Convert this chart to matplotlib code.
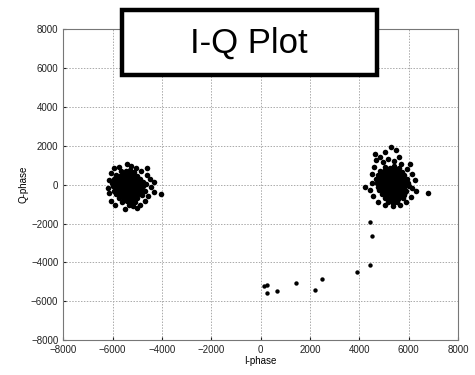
import numpy as np
import matplotlib
matplotlib.use("Agg")
import matplotlib.pyplot as plt
from matplotlib.patches import Rectangle

plt.rcParams['font.family'] = ['Liberation Sans', 'DejaVu Sans']

# symbol cluster around (-5350, 0)
left_cluster = [
    (-5640, 720), (-5470, 690), (-5310, 760), (-5130, 650),
    (-5860, 520), (-5710, 470), (-5530, 540), (-5350, 480), (-5170, 530), (-4990, 450),
    (-5940, 290), (-5770, 330), (-5610, 260), (-5420, 320), (-5250, 270), (-5070, 340), (-4890, 280),
    (-6010, 110), (-5830, 70), (-5650, 130), (-5470, 90), (-5290, 60), (-5110, 120), (-4930, 80), (-4770, 140),
    (-5990, -90), (-5810, -130), (-5630, -70), (-5450, -110), (-5270, -150), (-5090, -80), (-4910, -120), (-4750, -60),
    (-5930, -310), (-5750, -270), (-5570, -330), (-5390, -290), (-5210, -260), (-5030, -320), (-4850, -280),
    (-5870, -490), (-5690, -530), (-5510, -470), (-5330, -510), (-5150, -540), (-4970, -480), (-4810, -520),
    (-5730, -710), (-5550, -680), (-5370, -740), (-5190, -700), (-5010, -660),
    (-5610, -900), (-5430, -860), (-5250, -920), (-5070, -880),
    (-5560, 620), (-5400, 600), (-5220, 640), (-5780, 400), (-5600, 410), (-5440, 380), (-5260, 420), (-5090, 400),
    (-5880, 200), (-5700, 190), (-5520, 210), (-5350, 180), (-5180, 220), (-5000, 200),
    (-5900, -10), (-5720, 10), (-5540, -20), (-5360, 0), (-5180, 20), (-5000, -30), (-4840, 10),
    (-5860, -200), (-5680, -190), (-5500, -220), (-5320, -200), (-5140, -210), (-4960, -190),
    (-5800, -400), (-5620, -410), (-5440, -390), (-5260, -420), (-5080, -400), (-4900, -380),
    (-5640, -600), (-5460, -620), (-5280, -590), (-5100, -610),
    (-5520, -790), (-5340, -810), (-5160, -780),
    (-5720, 920), (-5420, 1080), (-5250, 950), (-5050, 880), (-4850, 720), (-4620, 520),
    (-4500, 300), (-4650, 60), (-4450, -120), (-4040, -500), (-4300, -380), (-4550, -600),
    (-4700, -850), (-4900, -1050), (-5150, -1120), (-5500, -1250), (-5900, -1050), (-6080, -820),
    (-6150, -450), (-6200, -150), (-6150, 250), (-6050, 620), (-5950, 850), (-4620, 880),
    (-4300, 120), (-4700, -300), (-5000, -1200), (-5350, -1050),
]

# symbol cluster around (5350, 50)
right_cluster = [
    (5050, 920), (5230, 870), (5410, 940), (5600, 880),
    (4850, 720), (5020, 680), (5200, 740), (5380, 690), (5560, 710), (5730, 660),
    (4760, 510), (4930, 470), (5110, 530), (5290, 490), (5470, 540), (5650, 480), (5820, 520),
    (4700, 290), (4880, 330), (5060, 270), (5240, 310), (5420, 280), (5600, 330), (5780, 290), (5950, 310),
    (4720, 80), (4900, 120), (5080, 60), (5260, 110), (5440, 90), (5620, 130), (5800, 70), (5980, 100),
    (4750, -120), (4930, -80), (5110, -130), (5290, -90), (5470, -110), (5650, -70), (5830, -120), (6000, -90),
    (4820, -290), (5000, -330), (5180, -280), (5360, -310), (5540, -270), (5720, -320), (5900, -300),
    (4910, -500), (5090, -530), (5270, -480), (5450, -520), (5630, -490), (5810, -510),
    (5040, -700), (5220, -720), (5400, -680), (5580, -730), (5760, -690),
    (5180, -880), (5360, -920), (5540, -870),
    (5140, 800), (5320, 810), (5500, 790), (4940, 600), (5120, 610), (5300, 590), (5480, 620), (5660, 600),
    (4820, 400), (5000, 390), (5180, 410), (5360, 400), (5540, 420), (5720, 390),
    (4800, 200), (4980, 190), (5160, 210), (5340, 200), (5520, 180), (5700, 210), (5880, 200),
    (4830, 0), (5010, -10), (5190, 20), (5370, 0), (5550, -20), (5730, 10), (5910, 0),
    (4900, -200), (5080, -190), (5260, -210), (5440, -200), (5620, -220), (5800, -190),
    (4960, -410), (5140, -400), (5320, -420), (5500, -390), (5680, -410), (5860, -400),
    (5130, -610), (5310, -600), (5490, -620), (5670, -590),
    (5280, -790), (5460, -810),
    (4700, 1250), (4850, 1450), (5050, 1700), (5300, 1950), (5500, 1800), (5150, 1300),
    (4950, 1150), (5400, 1200), (5700, 1050), (5950, 800), (6150, 550), (6250, 250),
    (6150, -150), (6300, -350), (6100, -650), (5900, -900), (5650, -1050), (5350, -1100),
    (5050, -1050), (4750, -900), (4550, -600), (4450, -250), (4500, 100), (4520, 550),
    (4600, 900), (4250, -100), (5600, 1400), (6050, 1050), (4620, 1600), (6790, -420),
]

# transition samples between the two symbols
transition = [
    (4430, -1900), (4510, -2620), (4430, -4110), (3920, -4470), (2510, -4850),
    (2200, -5420), (1430, -5080), (680, -5450), (270, -5590), (270, -5160), (140, -5200),
]

ticks = [-8000, -6000, -4000, -2000, 0, 2000, 4000, 6000, 8000]

fig = plt.figure(figsize=(4.75, 3.75), dpi=100)
ax = fig.add_axes([0.133, 0.093, 0.831, 0.829])

for pts in (left_cluster, right_cluster):
    ax.scatter([p[0] for p in pts], [p[1] for p in pts], s=16, c='black',
               marker='o', linewidths=0, zorder=3)
ax.scatter([p[0] for p in transition], [p[1] for p in transition], s=10, c='black',
           marker='o', linewidths=0, zorder=3)

ax.set_xlim(-8000, 8000)
ax.set_ylim(-8000, 8000)
ax.set_xticks(ticks)
ax.set_yticks(ticks)
ax.tick_params(labelsize=7, length=2, direction='in', colors='#222222')
ax.grid(True, linestyle=(0, (1.5, 1.5)), color='#aaaaaa', linewidth=0.7)
for sp in ax.spines.values():
    sp.set_color('#777777')
ax.set_xlabel('I-phase', fontsize=7, labelpad=1)
ax.set_ylabel('Q-phase', fontsize=7, labelpad=2)

# boxed title sitting on top of the axes
fig.patches.append(Rectangle((0.257, 0.800), 0.537, 0.173, transform=fig.transFigure,
                             facecolor='white', edgecolor='black', linewidth=3.2, zorder=5))
fig.text(0.523, 0.886, 'I-Q Plot', fontsize=25, ha='center', va='center', zorder=6)

fig.savefig('out.png', dpi=100)
